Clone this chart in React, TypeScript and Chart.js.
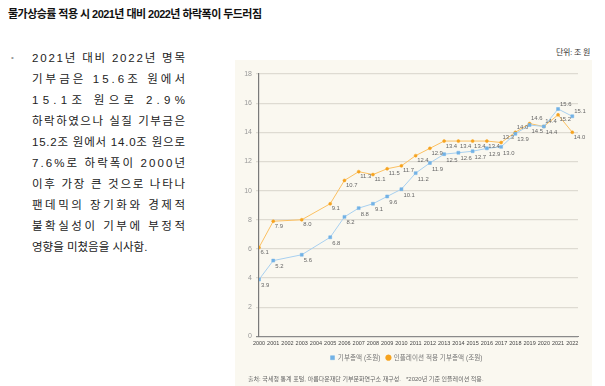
import React, { useEffect, useLayoutEffect, useRef, useState } from 'react';
import { Chart, registerables } from 'chart.js';

Chart.register(...registerables);

const years = [2000, 2001, 2002, 2003, 2004, 2005, 2006, 2007, 2008, 2009, 2010, 2011, 2012, 2013, 2014, 2015, 2016, 2017, 2018, 2019, 2020, 2021, 2022];
const donationTotal = [3.9, 5.2, null, 5.6, null, 6.8, 8.2, 8.8, 9.1, 9.6, 10.1, 11.2, 11.9, 12.5, 12.6, 12.7, 12.9, 13.0, 13.9, 14.5, 14.4, 15.6, 15.1];
const realDonationTotal = [6.1, 7.9, null, 8.0, null, 9.1, 10.7, 11.3, 11.1, 11.5, 11.7, 12.4, 12.9, 13.4, 13.4, 13.4, 13.4, 13.3, 14.0, 14.6, 14.4, 15.2, 14.0];
const yTicks = [0, 2, 4, 6, 8, 10, 12, 14, 16, 18];
const seriesNames = ['기부총액 (조원)', '인플레이션 적용 기부총액 (조원)'];
const donationLabelAbove = [2021, 2022];
const realLabelAbove = [2017, 2018, 2019, 2020];

const titleText = '물가상승률 적용 시 2021년 대비 2022년 하락폭이 두드러짐';
const bodyLines = [
  '2021년 대비 2022년 명목',
  '기부금은 15.6조 원에서',
  '15.1조 원으로 2.9%',
  '하락하였으나 실질 기부금은',
  '15.2조 원에서 14.0조 원으로',
  '7.6%로 하락폭이 2000년',
  '이후 가장 큰 것으로 나타나',
  '팬데믹의 장기화와 경제적',
  '불확실성이 기부에 부정적',
  '영향을 미쳤음을 시사함.',
];
const unitText = '단위: 조 원';
const sourceText = '출처: 국세청 통계 포털, 아름다운재단 기부문화연구소 재구성.\u00a0\u00a0\u00a0*2020년 기준 인플레이션 적용.';

const SANS = "'Liberation Sans', 'Noto Sans CJK KR', sans-serif";

const valueLabels = {
  id: 'valueLabels',
  afterDatasetsDraw(chart: any) {
    const ctx = chart.ctx;
    ctx.save();
    ctx.font = `5.9px ${SANS}`;
    ctx.fillStyle = '#666';
    ctx.textAlign = 'left';
    ctx.textBaseline = 'middle';
    chart.data.datasets.forEach((ds: any, di: number) => {
      const meta = chart.getDatasetMeta(di);
      const above = di === 0 ? donationLabelAbove : realLabelAbove;
      meta.data.forEach((el: any, i: number) => {
        const raw = ds.data[i];
        if (!raw || raw.y == null) return;
        const up = above.includes(raw.x);
        const dx = di === 0 ? 2 : 1.5;
        const dy = up ? -5 : di === 0 ? 6 : 5;
        ctx.fillText(raw.y.toFixed(1), el.x + dx, el.y + dy);
      });
    });
    ctx.restore();
  },
};

function JustifiedLine({ text, width, justify }: { text: string; width: number; justify: boolean }) {
  const ref = useRef<HTMLSpanElement>(null);
  const [ls, setLs] = useState(0);
  useLayoutEffect(() => {
    const el = ref.current;
    if (!el || !justify) return;
    el.style.letterSpacing = '0px';
    const w = el.getBoundingClientRect().width;
    const n = Array.from(text).length;
    setLs((width - w) / (n - 1));
  }, [text, width, justify]);
  return (
    <div style={{ height: 21.1, lineHeight: '21.1px', whiteSpace: 'nowrap' }}>
      <span ref={ref} style={{ letterSpacing: `${ls}px` }}>{text}</span>
    </div>
  );
}

function LineChart() {
  const canvasRef = useRef<HTMLCanvasElement>(null);
  useEffect(() => {
    if (!canvasRef.current) return;
    const chart = new Chart(canvasRef.current, {
      type: 'line',
      data: {
        datasets: [
          {
            label: seriesNames[0],
            data: years.map((x, i) => ({ x, y: donationTotal[i] })),
            borderColor: '#a8d0f0',
            backgroundColor: '#72b2e6',
            pointBackgroundColor: '#72b2e6',
            pointBorderColor: '#72b2e6',
            pointStyle: 'rect',
            pointRadius: 2.1,
            pointBorderWidth: 0.5,
            borderWidth: 1,
            spanGaps: true,
            tension: 0,
          },
          {
            label: seriesNames[1],
            data: years.map((x, i) => ({ x, y: realDonationTotal[i] })),
            borderColor: '#fbc062',
            backgroundColor: '#f6a31e',
            pointBackgroundColor: '#f6a31e',
            pointBorderColor: '#f6a31e',
            pointStyle: 'circle',
            pointRadius: 1.5,
            pointBorderWidth: 0.5,
            borderWidth: 1,
            spanGaps: true,
            tension: 0,
          },
        ] as any,
      },
      options: {
        animation: false,
        responsive: false,
        devicePixelRatio: 1,
        layout: { padding: { top: 14, right: 14, bottom: 15, left: 0 } },
        plugins: {
          legend: {
            position: 'bottom',
            labels: {
              usePointStyle: true,
              boxWidth: 4,
              boxHeight: 4,
              padding: 6,
              font: { size: 6.6, family: SANS },
              color: '#777',
            },
          },
          tooltip: { enabled: false },
        },
        scales: {
          x: {
            type: 'linear',
            min: 2000,
            max: 2022.4,
            afterBuildTicks: (s: any) => {
              s.ticks = years.map((v) => ({ value: v }));
            },
            afterFit: (s: any) => {
              s.height = 12;
            },
            grid: { display: false, drawTicks: false },
            border: { display: true, color: '#8a8a8a', width: 1 },
            ticks: {
              font: { size: 5.5, family: SANS },
              color: '#444',
              padding: 4,
              maxRotation: 0,
              autoSkip: false,
              callback: (v: any) => String(v),
            },
          },
          y: {
            min: 0,
            max: 18,
            afterBuildTicks: (s: any) => {
              s.ticks = yTicks.map((v) => ({ value: v }));
            },
            afterFit: (s: any) => {
              s.width = 24;
            },
            grid: {
              color: (c: any) => (c.tick && c.tick.value === 0 ? '#8a8a8a' : '#dedbd2'),
              lineWidth: 1.2,
              tickLength: 3,
              drawTicks: true,
            },
            border: { color: '#7a7a7a', width: 1.2 },
            ticks: { font: { size: 7, family: SANS }, color: '#999', padding: 4 },
          },
        },
      } as any,
      plugins: [valueLabels],
    });
    return () => chart.destroy();
  }, []);
  return (
    <canvas
      ref={canvasRef}
      width={357}
      height={326}
      style={{ position: 'absolute', left: 235, top: 60, width: 357, height: 326, background: '#faf8f0' }}
    />
  );
}

export default function App() {
  return (
    <div style={{ position: 'fixed', left: 0, top: 0, width: 605, height: 386, background: '#fff', overflow: 'hidden', fontFamily: SANS }}>
      <div style={{ position: 'absolute', left: 8, top: 6, fontSize: 11, lineHeight: '16px', fontWeight: 700, letterSpacing: '-0.55px', color: '#111', whiteSpace: 'nowrap' }}>
        {titleText}
      </div>
      <div style={{ position: 'absolute', left: 11, top: 50, fontSize: 8, lineHeight: '16px', color: '#999' }}>•</div>
      <div style={{ position: 'absolute', left: 32, top: 47.5, width: 153, fontSize: 11.5, color: '#222' }}>
        {bodyLines.map((t, i) => (
          <JustifiedLine key={i} text={t} width={153} justify={i < bodyLines.length - 1} />
        ))}
      </div>
      <div style={{ position: 'absolute', left: 556, top: 46, fontSize: 8, lineHeight: '13px', color: '#333', letterSpacing: '-0.3px', whiteSpace: 'nowrap' }}>
        {unitText}
      </div>
      <LineChart />
      <div style={{ position: 'absolute', left: 248, top: 374, fontSize: 6, lineHeight: '10px', color: '#666', whiteSpace: 'nowrap' }}>
        {sourceText}
      </div>
    </div>
  );
}
